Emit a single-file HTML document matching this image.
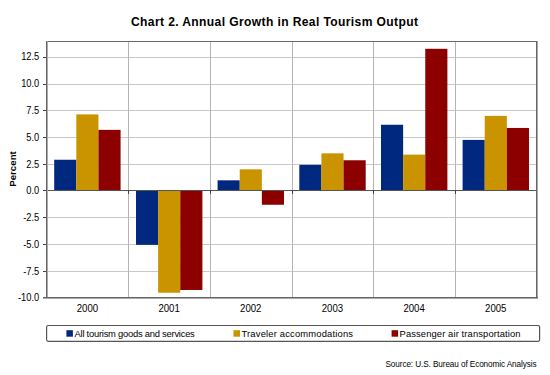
<!DOCTYPE html>
<html><head><meta charset="utf-8">
<style>
html,body{margin:0;padding:0;background:#fff;width:550px;height:375px;overflow:hidden}
svg{display:block}
text{font-family:"Liberation Sans",sans-serif;fill:#000}
</style></head>
<body>
<svg width="550" height="375" viewBox="0 0 550 375">
<rect x="0" y="0" width="550" height="375" fill="#fff"/>
<text transform="translate(131,26) scale(0.93,1)" font-size="13" font-weight="bold" textLength="308.6" lengthAdjust="spacing">Chart 2. Annual Growth in Real Tourism Output</text>
<g fill="#c8c8c8" shape-rendering="crispEdges">
<rect x="47" y="57" width="490" height="1"/><rect x="47" y="84" width="490" height="1"/><rect x="47" y="110" width="490" height="1"/><rect x="47" y="137" width="490" height="1"/><rect x="47" y="164" width="490" height="1"/><rect x="47" y="217" width="490" height="1"/><rect x="47" y="244" width="490" height="1"/><rect x="47" y="271" width="490" height="1"/>
</g>
<g fill="#b4b4b4" shape-rendering="crispEdges">
<rect x="128" y="41" width="1" height="256"/><rect x="210" y="41" width="1" height="256"/><rect x="292" y="41" width="1" height="256"/><rect x="373" y="41" width="1" height="256"/><rect x="455" y="41" width="1" height="256"/>
</g>
<g>
<rect x="54.20" y="159.74" width="22.13" height="30.76" fill="#00287f"/><rect x="76.33" y="114.40" width="22.13" height="76.10" fill="#c99400"/><rect x="98.46" y="129.87" width="22.13" height="60.63" fill="#8d0000"/><rect x="136.00" y="190.50" width="22.13" height="54.36" fill="#00287f"/><rect x="158.13" y="190.50" width="22.13" height="102.25" fill="#c99400"/><rect x="180.26" y="190.50" width="22.13" height="99.48" fill="#8d0000"/><rect x="217.60" y="180.32" width="22.13" height="10.18" fill="#00287f"/><rect x="239.73" y="169.34" width="22.13" height="21.16" fill="#c99400"/><rect x="261.86" y="190.50" width="22.13" height="14.25" fill="#8d0000"/><rect x="299.30" y="164.86" width="22.13" height="25.64" fill="#00287f"/><rect x="321.43" y="153.34" width="22.13" height="37.16" fill="#c99400"/><rect x="343.56" y="160.27" width="22.13" height="30.23" fill="#8d0000"/><rect x="381.00" y="124.75" width="22.13" height="65.75" fill="#00287f"/><rect x="403.13" y="154.62" width="22.13" height="35.88" fill="#c99400"/><rect x="425.26" y="48.80" width="22.13" height="141.70" fill="#8d0000"/><rect x="462.60" y="139.90" width="22.13" height="50.60" fill="#00287f"/><rect x="484.73" y="115.89" width="22.13" height="74.61" fill="#c99400"/><rect x="506.86" y="127.95" width="22.13" height="62.55" fill="#8d0000"/>
</g>
<g shape-rendering="crispEdges">
<rect x="43" y="190" width="494" height="1" fill="#555"/>
<g fill="#404040">
<rect x="128" y="190" width="1" height="3.5"/><rect x="210" y="190" width="1" height="3.5"/><rect x="292" y="190" width="1" height="3.5"/><rect x="373" y="190" width="1" height="3.5"/><rect x="455" y="190" width="1" height="3.5"/>
</g>
<rect x="46" y="41" width="491" height="1" fill="#6a6a6a"/>
<rect x="536" y="41" width="1" height="258" fill="#666"/>
<rect x="537" y="41" width="1" height="258" fill="#aaa"/>
<rect x="46" y="41" width="1" height="258" fill="#666"/>
<rect x="47" y="41" width="1" height="258" fill="#aaa"/>
<rect x="43" y="297" width="495" height="1" fill="#666"/>
<rect x="43" y="298" width="495" height="1" fill="#aaa"/>
<g fill="#404040">
<rect x="43" y="57" width="3" height="1"/><rect x="43" y="84" width="3" height="1"/><rect x="43" y="110" width="3" height="1"/><rect x="43" y="137" width="3" height="1"/><rect x="43" y="164" width="3" height="1"/><rect x="43" y="190" width="3" height="1"/><rect x="43" y="217" width="3" height="1"/><rect x="43" y="244" width="3" height="1"/><rect x="43" y="271" width="3" height="1"/>
</g>
</g>
<g font-size="10" text-anchor="end">
<text transform="translate(39.2,60) scale(0.93,1)">12.5</text><text transform="translate(39.2,87) scale(0.93,1)">10.0</text><text transform="translate(39.2,114) scale(0.93,1)">7.5</text><text transform="translate(39.2,141) scale(0.93,1)">5.0</text><text transform="translate(39.2,168) scale(0.93,1)">2.5</text><text transform="translate(39.2,194) scale(0.93,1)">0.0</text><text transform="translate(39.2,221) scale(0.93,1)">-2.5</text><text transform="translate(39.2,248) scale(0.93,1)">-5.0</text><text transform="translate(39.2,275) scale(0.93,1)">-7.5</text><text transform="translate(39.2,301) scale(0.93,1)">-10.0</text>
</g>
<text transform="translate(16,169) rotate(-90)" font-size="9.7" font-weight="bold" text-anchor="middle">Percent</text>
<g font-size="10" text-anchor="middle">
<text transform="translate(87.43,312) scale(0.96,1)">2000</text><text transform="translate(169.10,312) scale(0.96,1)">2001</text><text transform="translate(250.77,312) scale(0.96,1)">2002</text><text transform="translate(332.43,312) scale(0.96,1)">2003</text><text transform="translate(414.10,312) scale(0.96,1)">2004</text><text transform="translate(495.77,312) scale(0.96,1)">2005</text>
</g>
<rect x="46.6" y="325.5" width="493" height="15.8" rx="1.5" fill="none" stroke="#555" stroke-width="1.2"/>
<rect x="66.4" y="330.2" width="6.5" height="6.5" fill="#00287f"/>
<rect x="233.5" y="330.2" width="6.5" height="6.5" fill="#c99400"/>
<rect x="391.6" y="330.2" width="6.5" height="6.5" fill="#8d0000"/>
<g font-size="9.4">
<text x="74.5" y="337" textLength="120.3" lengthAdjust="spacing">All tourism goods and services</text>
<text x="241.5" y="337" textLength="111.5" lengthAdjust="spacing">Traveler accommodations</text>
<text x="399.5" y="337" textLength="121" lengthAdjust="spacing">Passenger air transportation</text>
</g>
<text x="385.5" y="367" font-size="8.2" textLength="151" lengthAdjust="spacing">Source: U.S. Bureau of Economic Analysis</text>
</svg>
</body></html>
